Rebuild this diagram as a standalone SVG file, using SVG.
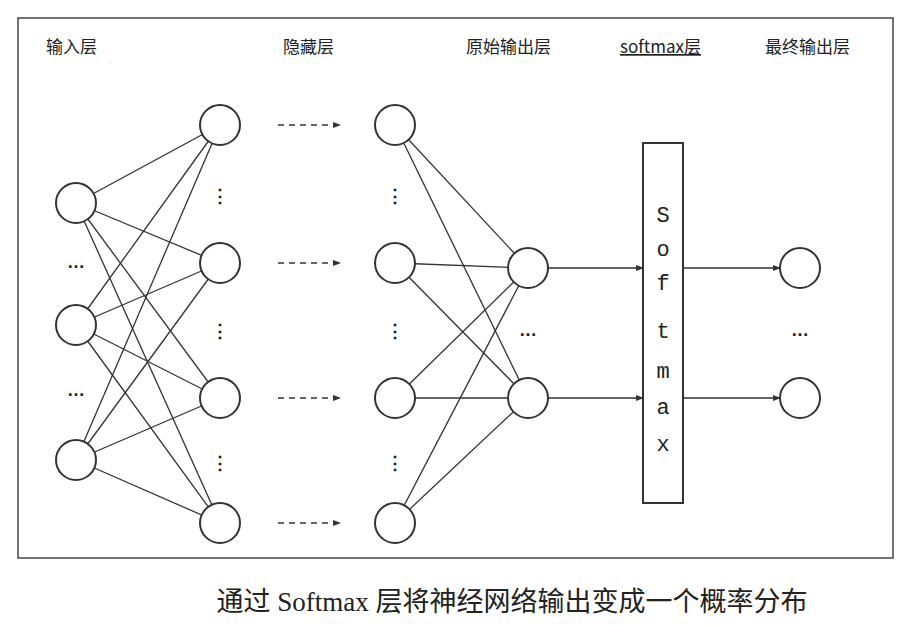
<svg xmlns="http://www.w3.org/2000/svg" width="908" height="626" viewBox="0 0 908 626">
<defs>
<marker id="ah" markerWidth="8" markerHeight="8" refX="7" refY="4" orient="auto" markerUnits="userSpaceOnUse"><path d="M0,1 L8,4 L0,7 Z" fill="#333"/></marker>
<style>
.n{fill:#fff;stroke:#333;stroke-width:2}
.l{stroke:#333;stroke-width:1.3;fill:none}
.a{stroke:#333;stroke-width:1.5;fill:none;marker-end:url(#ah)}
.d{stroke:#333;stroke-width:1.5;fill:none;stroke-dasharray:6,5;marker-end:url(#ah)}
.t{font-family:"Noto Sans CJK SC","Liberation Sans",sans-serif;font-size:17px;fill:#222}
.dot{font-family:"Liberation Sans",sans-serif;font-size:18px;font-weight:bold;fill:#222;text-anchor:middle}
.sm{font-family:"Liberation Mono",monospace;font-size:22px;fill:#222;text-anchor:middle}
</style>
</defs>
<rect width="908" height="626" fill="#fff"/>
<rect x="18" y="18" width="875" height="540" fill="none" stroke="#444" stroke-width="1.5"/>
<g id="labels">
<text class="t" x="46" y="53">输入层</text>
<text class="t" x="283" y="53">隐藏层</text>
<text class="t" x="466" y="53">原始输出层</text>
<text class="t" x="620" y="53" text-decoration="underline">softmax层</text>
<text class="t" x="765" y="53">最终输出层</text>
</g>
<g id="connectors">
<g class="l">
<line x1="76" y1="203" x2="220" y2="125"/><line x1="76" y1="203" x2="220" y2="263"/><line x1="76" y1="203" x2="220" y2="398"/><line x1="76" y1="203" x2="220" y2="523"/>
<line x1="76" y1="325" x2="220" y2="125"/><line x1="76" y1="325" x2="220" y2="263"/><line x1="76" y1="325" x2="220" y2="398"/><line x1="76" y1="325" x2="220" y2="523"/>
<line x1="76" y1="460" x2="220" y2="125"/><line x1="76" y1="460" x2="220" y2="263"/><line x1="76" y1="460" x2="220" y2="398"/><line x1="76" y1="460" x2="220" y2="523"/>
<line x1="395" y1="125" x2="528" y2="268"/><line x1="395" y1="125" x2="528" y2="398"/>
<line x1="395" y1="263" x2="528" y2="268"/><line x1="395" y1="263" x2="528" y2="398"/>
<line x1="395" y1="398" x2="528" y2="268"/><line x1="395" y1="398" x2="528" y2="398"/>
<line x1="395" y1="523" x2="528" y2="268"/><line x1="395" y1="523" x2="528" y2="398"/>
</g>
<line class="d" x1="278" y1="125" x2="340" y2="125"/>
<line class="d" x1="278" y1="263" x2="340" y2="263"/>
<line class="d" x1="278" y1="398" x2="340" y2="398"/>
<line class="d" x1="278" y1="523" x2="340" y2="523"/>
<line class="a" x1="548" y1="268" x2="643" y2="268"/>
<line class="a" x1="548" y1="398" x2="643" y2="398"/>
<line class="a" x1="683" y1="268" x2="780" y2="268"/>
<line class="a" x1="683" y1="398" x2="780" y2="398"/>
</g>
<g id="input"><circle class="n" cx="76" cy="203" r="20"/><circle class="n" cx="76" cy="325" r="20"/><circle class="n" cx="76" cy="460" r="20"/>
<text class="dot" x="76" y="268">…</text><text class="dot" x="76" y="396">…</text></g>
<g id="hidden1"><circle class="n" cx="220" cy="125" r="20"/><circle class="n" cx="220" cy="263" r="20"/><circle class="n" cx="220" cy="398" r="20"/><circle class="n" cx="220" cy="523" r="20"/>
<text class="dot" x="220" y="202">⋮</text><text class="dot" x="220" y="337">⋮</text><text class="dot" x="220" y="469">⋮</text></g>
<g id="hidden2"><circle class="n" cx="395" cy="125" r="20"/><circle class="n" cx="395" cy="263" r="20"/><circle class="n" cx="395" cy="398" r="20"/><circle class="n" cx="395" cy="523" r="20"/>
<text class="dot" x="395" y="202">⋮</text><text class="dot" x="395" y="337">⋮</text><text class="dot" x="395" y="469">⋮</text></g>
<g id="output"><circle class="n" cx="528" cy="268" r="20"/><circle class="n" cx="528" cy="398" r="20"/><text class="dot" x="528" y="336">…</text></g>
<g id="softmax"><rect x="643" y="143" width="40" height="360" fill="#fff" stroke="#333" stroke-width="2"/>
<text class="sm" x="663" y="222">S</text><text class="sm" x="663" y="256">o</text><text class="sm" x="663" y="290">f</text><text class="sm" x="663" y="338">t</text><text class="sm" x="663" y="378">m</text><text class="sm" x="663" y="414">a</text><text class="sm" x="663" y="451">x</text></g>
<g id="final"><circle class="n" cx="800" cy="268" r="20"/><circle class="n" cx="800" cy="398" r="20"/><text class="dot" x="800" y="336">…</text></g>
<text x="512" y="611" font-family="'Liberation Serif','Noto Sans CJK SC',serif" font-size="27" fill="#222" text-anchor="middle">通过 Softmax 层将神经网络输出变成一个概率分布</text>
</svg>
